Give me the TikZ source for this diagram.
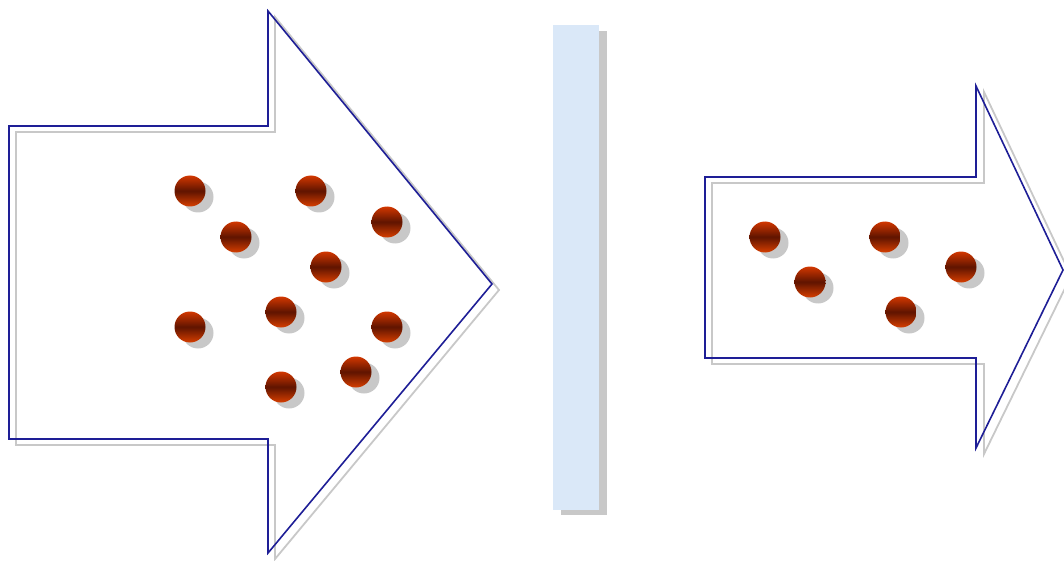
\documentclass[tikz,border=0pt]{standalone}
\usetikzlibrary{shadings}
\definecolor{arrowblue}{RGB}{30,30,150}
\definecolor{shadowgray}{RGB}{200,200,200}
\definecolor{wallblue}{RGB}{218,232,248}
\definecolor{ballhi}{RGB}{210,55,0}
\definecolor{balldark}{RGB}{95,20,0}
\begin{document}
\begin{tikzpicture}[x=1pt, y=-1pt,
    arr/.style={draw=arrowblue, line width=1.6pt, line join=miter},
    arrshadow/.style={draw=shadowgray, line width=1.8pt, line join=miter},
    ball/.style={circle, inner sep=0pt, minimum size=31pt, top color=ballhi, bottom color=ballhi!90!orange, middle color=balldark},
    ballshadow/.style={circle, inner sep=0pt, minimum size=31pt, fill=shadowgray}]
\useasboundingbox (0,0) rectangle (1064,561);
% shadows of the arrows
\draw[arrshadow] (16,132) -- (275,132) -- (275,17) -- (499,290) -- (275,559) -- (275,445) -- (16,445) -- cycle;
\draw[arrshadow] (712,183) -- (984,183) -- (984,92) -- (1071,276) -- (984,454) -- (984,364) -- (712,364) -- cycle;
% arrows
\draw[arr] (9,126) -- (268,126) -- (268,11) -- (492,284) -- (268,553) -- (268,439) -- (9,439) -- cycle;
\draw[arr] (705,177) -- (976,177) -- (976,86) -- (1063,270) -- (976,448) -- (976,358) -- (705,358) -- cycle;
% wall
\fill[shadowgray] (561,31) rectangle (607,515);
\fill[wallblue] (553,25) rectangle (599,510);
% particles
\foreach \n/\x/\y in {1/190/191, 2/236/237, 3/311/191, 4/387/222, 5/326/267,
    6/281/312, 7/190/327, 8/387/327, 9/356/372, 10/281/387,
    11/765/237, 12/810/282, 13/885/237, 14/961/267, 15/901/312} {
    \node[ballshadow] (s\n) at (\x+8,\y+6) {};
    \node[ball] (b\n) at (\x,\y) {};
}
\end{tikzpicture}
\end{document}
